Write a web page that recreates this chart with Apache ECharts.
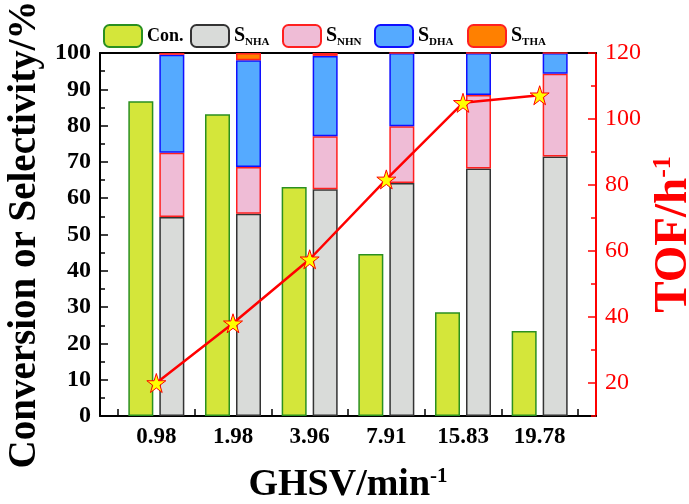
<!DOCTYPE html>
<html><head><meta charset="utf-8">
<script src="https://cdn.jsdelivr.net/npm/echarts@6/dist/echarts.min.js"></script>
<style>html,body{margin:0;padding:0;background:#fff}#c{width:689px;height:504px}</style>
</head><body><div id="c"></div>
<script>
const categories = ['0.98', '1.98', '3.96', '7.91', '15.83', '19.78'];
const conversion = [86.7, 83.1, 63.1, 44.6, 28.6, 23.4];
const sNHA = [54.8, 55.7, 62.5, 64.2, 68.2, 71.5];
const sNHN = [17.7, 12.9, 14.6, 15.6, 20.2, 22.8];
const sDHA = [27.0, 29.4, 22.1, 20.2, 11.6, 5.7];
const sTHA = [0.5, 2.0, 0.8, 0, 0, 0];
const tof = [20.0, 38.1, 57.5, 81.7, 104.9, 107.2];

const FONT = '"Liberation Serif","Times New Roman",serif';
const STAR = 'path://M50,0 L61.2,34.5 L97.6,34.5 L68.2,55.9 L79.4,90.5 L50,69.1 L20.6,90.5 L31.8,55.9 L2.4,34.5 L38.8,34.5 Z';

const chart = echarts.init(document.getElementById('c'), null, {renderer: 'canvas'});

const subRich = {
  s: {fontFamily: FONT, fontWeight: 'bold', fontSize: 20, color: '#000', verticalAlign: 'middle'},
  sub: {fontFamily: FONT, fontWeight: 'bold', fontSize: 11, color: '#000', padding: [12, 0, 0, 0], verticalAlign: 'middle'},
  n: {fontFamily: FONT, fontWeight: 'bold', fontSize: 18, color: '#000'}
};
const legendFmt = name => name.startsWith('S_') ? '{s|S}{sub|' + name.slice(2) + '}' : '{n|' + name + '}';
const names = ['Con.', 'S_NHA', 'S_NHN', 'S_DHA', 'S_THA'];
const legendLeft = [98, 185, 277, 369, 462];
const legends = names.map((n, i) => ({
  data: [n], left: legendLeft[i], top: 19, itemWidth: 38, itemHeight: 22, itemGap: 5,
  selectedMode: false, formatter: legendFmt,
  textStyle: {rich: subRich, fontFamily: FONT}
}));

const mkBar = (name, data, fill, border, stack) => ({
  name, type: 'bar', data, stack, barWidth: 25, barGap: '24%',
  xAxisIndex: 2, yAxisIndex: 2,
  itemStyle: {color: fill, borderColor: border, borderWidth: 1.5},
  emphasis: {disabled: true}
});
const noBounds = {outerBoundsMode: 'none', containLabel: false};
const tofPx = 363 / 110;

chart.setOption({
  animation: false,
  backgroundColor: '#fff',
  legend: legends,
  grid: [
    Object.assign({left: 100, right: 93, top: 53, bottom: 88}, noBounds),
    Object.assign({left: 118, right: 111, top: 53, bottom: 88}, noBounds),
    Object.assign({left: 100, right: 93, top: 53, bottom: 88 + 10 * tofPx}, noBounds)
  ],
  xAxis: [{
    gridIndex: 0, type: 'value', min: 0, max: 1, position: 'bottom',
    splitLine: {show: false}, axisTick: {show: false}, axisLabel: {show: false},
    axisLine: {show: true, onZero: false, lineStyle: {color: '#000', width: 2}},
    name: 'GHSV/min{sup|-1}', nameLocation: 'middle', nameGap: 50,
    nameTextStyle: {fontFamily: FONT, fontWeight: 'bold', fontSize: 38, color: '#000',
      rich: {sup: {fontFamily: FONT, fontWeight: 'bold', fontSize: 21, color: '#000', verticalAlign: 'top', padding: [0, 0, 16, 0]}}}
  }, {
    gridIndex: 0, type: 'value', min: 0, max: 1, position: 'top',
    splitLine: {show: false}, axisTick: {show: false}, axisLabel: {show: false},
    axisLine: {show: true, onZero: false, lineStyle: {color: '#000', width: 2}}
  }, {
    gridIndex: 1, type: 'category', data: categories, boundaryGap: true, position: 'bottom',
    axisLine: {show: false, onZero: false}, splitLine: {show: false},
    axisTick: {show: true, inside: true, length: 7, alignWithLabel: false, lineStyle: {color: '#000', width: 1.5}},
    axisLabel: {fontFamily: FONT, fontWeight: 'bold', fontSize: 23, color: '#000', margin: 10}
  }, {
    gridIndex: 2, type: 'value', min: 0, max: 1, show: false, axisLine: {onZero: false}
  }],
  yAxis: [{
    gridIndex: 0, type: 'value', min: 0, max: 100, interval: 10, position: 'left',
    splitLine: {show: false},
    axisLine: {show: true, onZero: false, lineStyle: {color: '#000', width: 2}},
    axisTick: {show: true, inside: true, length: 8, lineStyle: {color: '#000', width: 1.5}},
    minorTick: {show: true, splitNumber: 2, length: 5, lineStyle: {color: '#000', width: 1.5}},
    axisLabel: {fontFamily: FONT, fontWeight: 'bold', fontSize: 24, color: '#000', margin: 9},
    name: 'Conversion or Selectivity/%', nameLocation: 'middle', nameGap: 52, nameRotate: 90,
    nameTextStyle: {fontFamily: FONT, fontWeight: 'bold', fontSize: 39, color: '#000'}
  }, {
    gridIndex: 0, type: 'value', min: 10, max: 120, interval: 20, position: 'right',
    splitLine: {show: false},
    axisLine: {show: true, onZero: false, lineStyle: {color: '#ff0000', width: 2}},
    axisTick: {show: true, inside: true, length: 5, lineStyle: {color: '#ff0000', width: 1.5}},
    axisLabel: {show: false},
    name: 'TOF/h{sup|-1}', nameLocation: 'middle', nameGap: 54, nameRotate: 90,
    nameTextStyle: {fontFamily: FONT, fontWeight: 'bold', fontSize: 47, color: '#ff0000',
      rich: {sup: {fontFamily: FONT, fontWeight: 'bold', fontSize: 26, color: '#ff0000', verticalAlign: 'top', padding: [0, 0, 20, 0]}}}
  }, {
    gridIndex: 1, type: 'value', min: 0, max: 100, position: 'left', show: false, axisLine: {onZero: false}
  }, {
    gridIndex: 1, type: 'value', min: 10, max: 120, position: 'right', show: false, axisLine: {onZero: false}
  }, {
    gridIndex: 2, type: 'value', min: 20, max: 120, interval: 20, position: 'right',
    splitLine: {show: false}, axisLine: {show: false, onZero: false},
    axisTick: {show: true, inside: true, length: 8, lineStyle: {color: '#ff0000', width: 1.5}},
    axisLabel: {fontFamily: FONT, fontSize: 24, color: '#ff0000', margin: 9}
  }],
  series: [
    mkBar('Con.', conversion, '#d4e63a', '#2a9020', null),
    mkBar('S_NHA', sNHA, '#d9dbd9', '#333333', 's'),
    mkBar('S_NHN', sNHN, '#efbcd6', '#ff2020', 's'),
    mkBar('S_DHA', sDHA, '#55aaff', '#1010ff', 's'),
    mkBar('S_THA', sTHA, '#ff8000', '#ff2020', 's'),
    {
      name: 'TOF', type: 'line', xAxisIndex: 2, yAxisIndex: 3, data: tof,
      symbol: STAR, symbolSize: 19, z: 10,
      lineStyle: {color: '#ff0000', width: 2.5},
      itemStyle: {color: '#ffff00', borderColor: '#ff0000', borderWidth: 1},
      emphasis: {disabled: true}
    }
  ]
});
</script></body></html>
